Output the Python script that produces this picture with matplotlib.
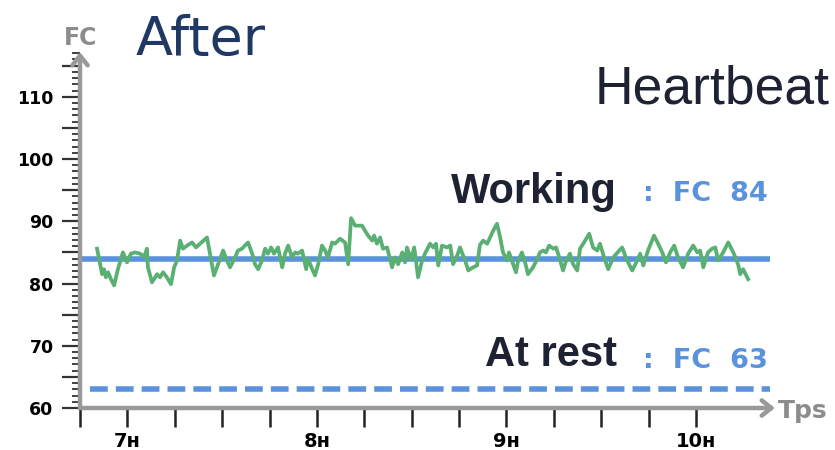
import matplotlib
matplotlib.use("Agg")
import matplotlib.pyplot as plt
from matplotlib.ticker import MultipleLocator, FuncFormatter

# heart rate trace: minutes after 6:00, beats per minute
minutes = [50.4, 52.0, 52.6, 53.2, 53.9, 54.8, 55.8, 57.0, 58.6, 59.9,
           61.1, 62.4, 64.0, 65.3, 66.2, 66.5, 67.8, 69.4, 70.3, 71.3,
           72.5, 73.8, 74.8, 75.7, 76.7, 77.6, 78.9, 80.5, 81.7, 83.0,
           85.2, 87.4, 88.7, 90.3, 91.5, 92.5, 94.1, 95.0, 96.3, 97.2,
           98.2, 99.5, 100.4, 101.4, 102.6, 103.6, 104.5, 105.5, 106.4, 107.7,
           109.0, 109.9, 110.9, 112.1, 113.1, 114.0, 115.3, 116.6, 117.2, 118.5,
           119.4, 120.4, 121.6, 122.6, 123.5, 124.8, 125.7, 127.3, 128.9, 129.9,
           130.8, 132.1, 134.3, 135.2, 136.2, 137.5, 138.1, 139.0, 140.0, 140.9,
           142.2, 143.8, 144.7, 145.7, 147.0, 147.9, 148.5, 149.8, 150.8, 152.0,
           153.3, 154.2, 155.8, 156.8, 157.7, 158.4, 159.6, 161.2, 162.2, 163.1,
           164.4, 165.3, 166.9, 167.9, 169.4, 170.7, 171.6, 172.6, 173.9, 174.8,
           175.8, 177.0, 178.0, 178.9, 180.2, 180.8, 182.1, 183.0, 183.7, 184.9,
           185.9, 186.8, 188.4, 189.7, 190.6, 191.6, 192.5, 193.5, 194.8, 195.7,
           196.7, 197.9, 198.9, 200.1, 201.1, 202.4, 203.3, 204.9, 206.2, 207.4,
           208.7, 209.6, 210.9, 212.2, 213.8, 216.6, 218.2, 219.8, 221.4, 222.3,
           223.3, 224.8, 226.7, 228.0, 229.3, 230.5, 231.8, 233.1, 234.3, 235.9,
           237.5, 239.1, 240.4, 241.3, 242.3, 243.8, 245.1, 246.1, 247.0, 248.6,
           250.2, 251.8, 253.3, 254.0, 254.9, 256.5]
bpm = [85.6, 81.5, 82.3, 81.0, 81.8, 80.7, 79.7, 82.3, 85.0, 83.4,
       84.8, 85.0, 84.8, 84.3, 85.6, 82.6, 80.2, 81.5, 81.0, 81.8,
       81.0, 79.9, 82.6, 83.7, 86.9, 85.6, 86.1, 86.6, 85.8, 86.4,
       87.4, 81.3, 83.1, 85.3, 83.7, 82.6, 84.2, 85.3, 85.6, 86.1,
       86.6, 84.8, 83.1, 82.3, 83.7, 85.6, 84.8, 85.8, 84.8, 85.8,
       82.6, 84.8, 86.1, 84.2, 85.0, 84.8, 85.3, 82.3, 84.0, 82.3,
       81.3, 83.1, 86.1, 85.3, 84.2, 86.6, 86.4, 87.2, 86.6, 83.1,
       90.5, 89.3, 89.3, 88.5, 87.7, 86.9, 87.7, 86.4, 87.4, 85.6,
       85.8, 82.6, 84.2, 83.1, 85.0, 83.4, 85.8, 83.9, 85.8, 81.0,
       83.7, 84.8, 86.4, 85.8, 86.4, 82.9, 86.1, 85.8, 86.1, 83.1,
       84.5, 85.8, 83.7, 82.1, 82.6, 82.9, 86.2, 86.9, 86.4, 87.4,
       88.5, 89.6, 87.4, 85.0, 83.7, 85.0, 83.1, 81.8, 83.7, 85.0,
       83.4, 81.5, 82.6, 83.9, 85.0, 85.3, 85.0, 86.1, 85.6, 85.8,
       84.2, 82.1, 83.7, 84.8, 83.1, 82.1, 85.6, 86.9, 88.0, 85.8,
       85.3, 86.4, 84.2, 82.3, 84.2, 85.8, 83.7, 82.1, 83.7, 84.8,
       82.9, 85.3, 87.7, 86.4, 85.0, 83.4, 85.0, 86.1, 84.2, 82.6,
       84.8, 86.1, 85.0, 85.3, 82.6, 85.0, 85.6, 85.8, 83.7, 85.0,
       86.6, 85.0, 83.1, 81.5, 82.3, 80.7]

working_fc = 84
rest_fc = 63
working_span = [45.3, 263.5]
rest_span = [48.2, 263.5]

x_ticks = [45, 60, 75, 90, 105, 120, 135, 150, 165, 180, 195, 210, 225, 240]
hour_labels = {60: "7ʜ", 120: "8ʜ", 180: "9ʜ", 240: "10ʜ"}

blue = "#5b92dd"
green = "#5aaf72"
gray = "#999999"
dark = "#1e2233"

fig = plt.figure(figsize=(8.35, 4.5), dpi=100)
ax = fig.add_axes([80 / 835, 42 / 450, 695 / 835, 356 / 450])
ax.set_xlim(45, 265)
ax.set_ylim(60, 117.2)

for s in ax.spines.values():
    s.set_visible(False)

# axes drawn as arrows
arrow = dict(arrowstyle="->,head_length=0.7,head_width=0.55", lw=3.2,
             color=gray, shrinkA=0, shrinkB=0)
ax.annotate("", xy=(0, 1), xytext=(0, 0), xycoords="axes fraction",
            arrowprops=arrow, annotation_clip=False)
ax.annotate("", xy=(1.0, 0), xytext=(0, 0), xycoords="axes fraction",
            arrowprops=arrow, annotation_clip=False)

# y ticks
ax.yaxis.set_major_locator(MultipleLocator(5))
ax.yaxis.set_minor_locator(MultipleLocator(1))
ax.yaxis.set_major_formatter(FuncFormatter(lambda v, p: "%d" % v if v % 10 == 0 and v <= 110 else ""))
ax.tick_params(axis="y", which="major", length=13, width=1.6, color="#333333",
               pad=6, labelsize=12.5)
ax.tick_params(axis="y", which="minor", length=6, width=1.3, color="#333333")
for lab in ax.get_yticklabels():
    lab.set_fontweight("bold")

# x ticks
ax.set_xticks(x_ticks)
ax.set_xticklabels([hour_labels.get(t, "") for t in x_ticks], fontweight="bold")
ax.tick_params(axis="x", which="major", length=14, width=1.8, color="#222222",
               pad=3, labelsize=14)
ax.tick_params(axis="x", which="minor", length=0)

# reference levels
ax.plot(working_span, [working_fc, working_fc], color=blue, lw=4, solid_capstyle="butt")
ax.plot(rest_span, [rest_fc, rest_fc], color=blue, lw=4, dashes=(3.2, 1.45))

# heartbeat trace
ax.plot(minutes, bpm, color=green, lw=2.7)

# labels
fig.text(81 / 835, 1 - 45 / 450, "FC", color="#8c8c8c", fontsize=17,
         fontweight="bold", ha="center", va="baseline")
fig.text(778 / 835, 1 - 418 / 450, "Tps", color="#8c8c8c", fontsize=18,
         fontweight="bold", ha="left", va="baseline")

fig.text(136 / 835, 1 - 55 / 450, "After", color="#1f3864", fontsize=39,
         family="DejaVu Sans", va="baseline")
fig.text(830 / 835, 1 - 103 / 450, "Heartbeat", color=dark, fontsize=38.5,
         family="Liberation Sans", ha="right", va="baseline")

fig.text(617 / 835, 1 - 203 / 450, "Working", color=dark, fontsize=30,
         family="Liberation Sans", fontweight="bold", ha="right", va="baseline")
fig.text(617 / 835, 1 - 366 / 450, "At rest", color=dark, fontsize=30,
         family="Liberation Sans", fontweight="bold", ha="right", va="baseline")
fig.text(643 / 835, 1 - 201 / 450, ":  FC  %d" % working_fc, color=blue, fontsize=19.5,
         fontweight="heavy", ha="left", va="baseline")
fig.text(643 / 835, 1 - 368 / 450, ":  FC  %d" % rest_fc, color=blue, fontsize=19.5,
         fontweight="heavy", ha="left", va="baseline")

fig.savefig("out.png", dpi=100)
